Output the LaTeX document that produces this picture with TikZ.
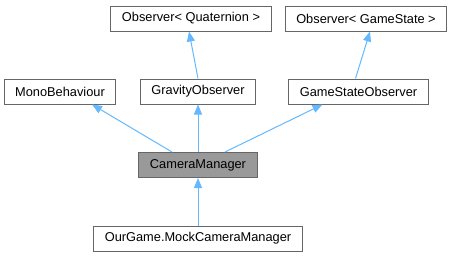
\documentclass[tikz,border=0pt]{standalone}
\usepackage{fontspec}
\setmainfont{Liberation Sans}
\usepackage{xcolor}
\usetikzlibrary{arrows.meta}
\definecolor{edgeblue}{HTML}{63B8FF}
\definecolor{boxgray}{HTML}{666666}
\definecolor{mainfill}{HTML}{999999}
\tikzstyle{classbox} = [draw=boxgray, fill=white, line width=1pt,
    rectangle, minimum height=25pt, inner xsep=11pt,
    font=\fontsize{12.8}{15}\selectfont]
\tikzstyle{mainbox} = [classbox, fill=mainfill]
\tikzstyle{inherit} =[draw=edgeblue, line width=1pt,
    -{Triangle[length=10pt,width=8pt]}]

\begin{document}
\begin{tikzpicture}[x=1pt,y=-1pt]
    \useasboundingbox (0,0) rectangle (463,257);
    % base classes
    \node [classbox] (obsq) at (191,18.5) {Observer< Quaternion >};
    \node [classbox] (obsg) at (366,18.5) {Observer< GameState >};
    \node [classbox] (mono) at (60,91.5) {MonoBehaviour};
    \node [classbox] (grav) at (198,91.5) {GravityObserver};
    \node [classbox] (gso) at (358.5,91.5) {GameStateObserver};
    % the class itself and its child
    \node [mainbox] (cam) at (198,165) {CameraManager};
    \node [classbox] (mock) at (198,238.5) {OurGame.MockCameraManager};

    \draw [inherit] (grav.north) -- ([xshift=-2pt]obsq.south);
    \draw [inherit] ([xshift=-3pt]gso.north) -- ([xshift=4pt]obsg.south);
    \draw [inherit] ([xshift=-26pt]cam.north) -- ([xshift=32pt]mono.south);
    \draw [inherit] (cam.north) -- (grav.south);
    \draw [inherit] ([xshift=27pt]cam.north) -- ([xshift=-36pt]gso.south);
    \draw [inherit] (mock.north) -- (cam.south);
\end{tikzpicture}
\end{document}
